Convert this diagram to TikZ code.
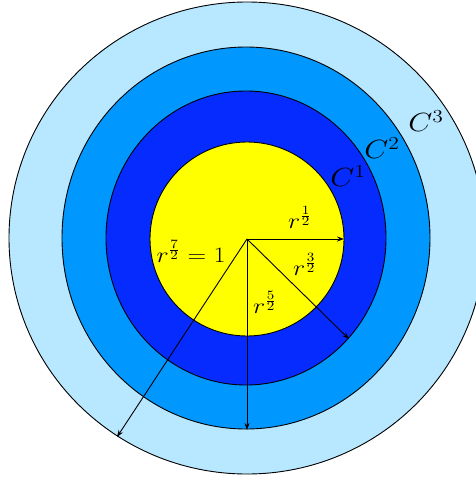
\documentclass[tikz,border=0pt]{standalone}
\usepackage{graphicx}
\usetikzlibrary{arrows.meta}
\definecolor{cyell}{RGB}{255,255,0}
\definecolor{cdark}{RGB}{5,43,255}
\definecolor{cmid}{RGB}{0,152,255}
\definecolor{clight}{RGB}{183,232,255}
\newcommand{\rlab}[1]{\scalebox{1.5}[1.27]{\LARGE #1}}
\newcommand{\clab}[1]{\scalebox{1.5}[1.27]{\huge #1}}
\tikzset{
  ring/.style={draw=black,line width=0.9pt},
  radius arrow/.style={draw=black,line width=0.9pt,-{Stealth[length=7pt,width=5pt]}},
  txt/.style={inner sep=0pt}
}
\begin{document}
\begin{tikzpicture}[x=1pt,y=-1pt]
\useasboundingbox (0,0) rectangle (476,480);
\clip (0,0) rectangle (476,480);
\coordinate (O) at (247,239);
\fill[white] (0,0) rectangle (476,480);
\path[ring,fill=clight] (247,238) ellipse [x radius=238,y radius=236];
\path[ring,fill=cmid] (246,238) ellipse [x radius=184,y radius=191];
\path[ring,fill=cdark] (246,238) ellipse [x radius=140,y radius=147];
\path[ring,fill=cyell] (247,239) circle [radius=97];
\coordinate (e1) at (344,239);
\coordinate (e2) at (349,339);
\coordinate (e3) at (247,430);
\coordinate (e4) at (117,437);
\draw[radius arrow] (O) -- (e1);
\draw[radius arrow] (O) -- (e2);
\draw[radius arrow] (O) -- (e3);
\draw[radius arrow] (O) -- (e4);
\node[txt] (l1) at (300,217) {\rlab{$r^{\frac{1}{2}}$}};
\node[txt] (l3) at (305,264) {\rlab{$r^{\frac{3}{2}}$}};
\node[txt] (l5) at (265,302) {\rlab{$r^{\frac{5}{2}}$}};
\node[txt] (l7) at (191,251) {\rlab{$r^{\frac{7}{2}}=1$}};
\node[txt] (c1) at (348,176) {\clab{$C^1$}};
\node[txt] (c2) at (382,148) {\clab{$C^2$}};
\node[txt] (c3) at (426,121) {\clab{$C^3$}};
\end{tikzpicture}
\end{document}
